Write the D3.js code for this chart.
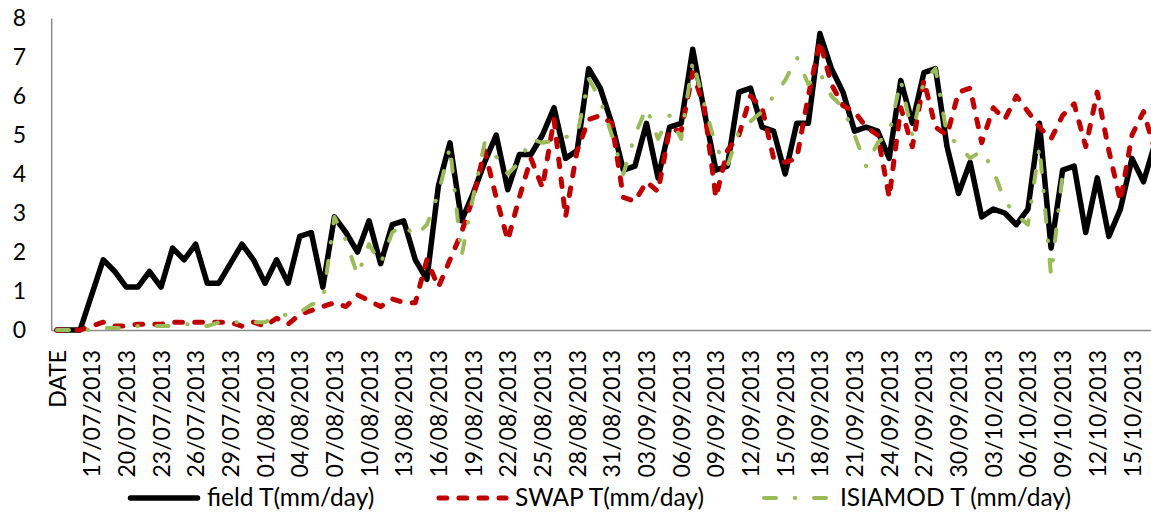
<!DOCTYPE html>
<html lang="en">
<head>
    <meta charset="UTF-8">
    <title>Transpiration</title>
    <script src="https://d3js.org/d3.v7.min.js"></script>
</head>
<style>
    body { margin: 0; background: #fff; }
    text { font-family: Lato, "Open Sans", sans-serif; fill: #000; }
</style>
<body>
<svg id="main" width="1151" height="514"></svg>
<script>
    // categories (first row is the column header that Excel plotted as 0)
    const categories = ["DATE",
        "15/07/2013","16/07/2013","17/07/2013","18/07/2013","19/07/2013","20/07/2013","21/07/2013","22/07/2013",
        "23/07/2013","24/07/2013","25/07/2013","26/07/2013","27/07/2013","28/07/2013","29/07/2013","30/07/2013","31/07/2013",
        "01/08/2013","02/08/2013","03/08/2013","04/08/2013","05/08/2013","06/08/2013","07/08/2013","08/08/2013",
        "09/08/2013","10/08/2013","11/08/2013","12/08/2013","13/08/2013","14/08/2013","15/08/2013","16/08/2013",
        "17/08/2013","18/08/2013","19/08/2013","20/08/2013","21/08/2013","22/08/2013","23/08/2013","24/08/2013",
        "25/08/2013","26/08/2013","27/08/2013","28/08/2013","29/08/2013","30/08/2013","31/08/2013",
        "01/09/2013","02/09/2013","03/09/2013","04/09/2013","05/09/2013","06/09/2013","07/09/2013","08/09/2013",
        "09/09/2013","10/09/2013","11/09/2013","12/09/2013","13/09/2013","14/09/2013","15/09/2013","16/09/2013",
        "17/09/2013","18/09/2013","19/09/2013","20/09/2013","21/09/2013","22/09/2013","23/09/2013","24/09/2013",
        "25/09/2013","26/09/2013","27/09/2013","28/09/2013","29/09/2013","30/09/2013",
        "01/10/2013","02/10/2013","03/10/2013","04/10/2013","05/10/2013","06/10/2013","07/10/2013","08/10/2013",
        "09/10/2013","10/10/2013","11/10/2013","12/10/2013","13/10/2013","14/10/2013","15/10/2013","16/10/2013",
        "17/10/2013"];

    const fieldT = [0, 0, 0, 0.9, 1.8, 1.5, 1.1, 1.1, 1.5, 1.1,
        2.1, 1.8, 2.2, 1.2, 1.2, 1.7, 2.2, 1.8, 1.2, 1.8,
        1.2, 2.4, 2.5, 1.1, 2.9, 2.5, 2.0, 2.8, 1.7, 2.7,
        2.8, 1.8, 1.3, 3.7, 4.8, 2.8, 3.5, 4.3, 5.0, 3.6,
        4.5, 4.5, 5.0, 5.7, 4.4, 4.6, 6.7, 6.2, 5.3, 4.1,
        4.2, 5.3, 3.9, 5.2, 5.3, 7.2, 5.6, 4.1, 4.2, 6.1,
        6.2, 5.2, 5.1, 4.0, 5.3, 5.3, 7.6, 6.7, 6.1, 5.1,
        5.2, 5.1, 4.4, 6.4, 5.3, 6.6, 6.7, 4.7, 3.5, 4.3,
        2.9, 3.1, 3.0, 2.7, 3.1, 5.3, 2.1, 4.1, 4.2, 2.5,
        3.9, 2.4, 3.1, 4.4, 3.8, 4.8];

    const swapT = [0, 0, 0, 0.1, 0.2, 0.1, 0.1, 0.15, 0.15, 0.15,
        0.2, 0.2, 0.2, 0.2, 0.2, 0.2, 0.1, 0.2, 0.1, 0.3,
        0.15, 0.4, 0.5, 0.6, 0.7, 0.6, 0.9, 0.75, 0.6, 0.8,
        0.7, 0.7, 1.8, 1.1, 1.8, 2.5, 3.4, 4.6, 3.4, 2.3,
        3.4, 4.4, 3.65, 5.4, 2.9, 4.6, 5.4, 5.5, 5.3, 3.4,
        3.3, 3.8, 3.55, 5.15, 5.1, 6.6, 5.7, 3.4, 4.6, 5.0,
        6.0, 5.7, 4.4, 4.3, 4.4, 6.0, 7.4, 6.3, 5.75, 5.6,
        5.2, 5.0, 3.4, 5.7, 4.7, 6.4, 5.2, 5.0, 6.1, 6.2,
        4.8, 5.7, 5.4, 6.0, 5.6, 5.2, 4.9, 5.5, 5.8, 4.7,
        6.1, 4.6, 3.3, 5.0, 5.6, 4.6];

    const isiamodT = [0, 0, 0, 0, 0.05, 0.05, 0.05, 0.1, 0.1, 0.1,
        0.1, 0.15, 0.15, 0.1, 0.2, 0.2, 0.2, 0.2, 0.2, 0.35,
        0.4, 0.45, 0.65, 0.75, 2.9, 2.3, 1.4, 2.2, 1.7, 2.5,
        2.7, 2.4, 2.7, 3.5, 4.7, 1.9, 3.4, 4.8, 4.45, 4.0,
        4.3, 4.9, 4.8, 4.85, 4.95, 5.0, 6.45, 5.9, 5.0, 4.0,
        5.0, 5.7, 4.9, 5.5, 4.9, 6.9, 5.8, 4.7, 4.2, 5.1,
        5.35, 5.6, 6.0, 6.4, 7.0, 6.3, 6.6, 6.0, 5.7, 5.0,
        4.2, 4.8, 5.05, 6.4, 5.0, 6.4, 6.7, 5.0, 4.75, 4.4,
        4.6, 4.1, 3.3, 2.95, 2.7, 4.7, 1.4, 4.0];

    const yTicks = [0, 1, 2, 3, 4, 5, 6, 7, 8];

    const series = [
        {name: "field T(mm/day)", values: fieldT, color: "#000000", width: 5.5, dash: null, cap: "round"},
        {name: "SWAP T(mm/day)", values: swapT, color: "#C00000", width: 5, dash: "7.7,12.3", cap: "round"},
        {name: "ISIAMOD T (mm/day)", values: isiamodT, color: "#9BBB59", width: 4, dash: "12,18.75,0.5,18.75", cap: "round"}
    ];

    let svg = d3.select('svg#main');
    let step = 11.559;
    let plotLeft = 51.2, plotTop = 18, plotBottom = 330;

    let x = d3.scalePoint()
        .domain(categories)
        .range([plotLeft, plotLeft + step * categories.length])
        .padding(0.5);

    let y = d3.scaleLinear()
        .domain([0, 8])
        .range([plotBottom, plotTop]);

    // y axis
    let yAxis = svg.append("g")
        .attr("transform", "translate(" + plotLeft + ",0)")
        .call(d3.axisLeft(y).tickValues(yTicks).tickSize(0).tickSizeOuter(0).tickPadding(25));
    yAxis.select(".domain").attr("stroke", "#8c8c8c").attr("stroke-width", 1.5);
    yAxis.selectAll("text").style("font-size", "23px").style("font-family", "Lato");

    // x axis, every third category labelled
    let xAxis = svg.append("g")
        .attr("transform", "translate(0," + plotBottom + ")")
        .call(d3.axisBottom(x)
            .tickValues(categories.filter((d, i) => i % 3 === 0))
            .tickSize(0).tickSizeOuter(0));
    xAxis.select(".domain").attr("stroke", "#8c8c8c").attr("stroke-width", 1.5);
    xAxis.selectAll("text")
        .attr("transform", "rotate(-90)")
        .attr("x", -20)
        .attr("y", 0)
        .attr("dy", "0.35em")
        .style("text-anchor", "end")
        .style("font-size", "23px")
        .style("font-family", "Lato");

    let line = d3.line()
        .x((d, i) => x(categories[i]))
        .y(d => y(d));

    svg.selectAll(".series")
        .data(series)
        .enter()
        .append("path")
        .attr("class", "series")
        .attr("fill", "none")
        .attr("stroke", d => d.color)
        .attr("stroke-width", d => d.width)
        .attr("stroke-dasharray", d => d.dash)
        .attr("stroke-linecap", d => d.cap)
        .attr("stroke-linejoin", "round")
        .attr("d", d => line(d.values));

    // legend
    const legendX = [[130.5, 197.5, 207], [439, 506, 515], [764, 826, 840]];
    let legend = svg.selectAll(".legend")
        .data(series)
        .enter().append("g")
        .attr("class", "legend");

    legend.append("line")
        .attr("x1", (d, i) => legendX[i][0])
        .attr("x2", (d, i) => legendX[i][1])
        .attr("y1", 498).attr("y2", 498)
        .attr("stroke", d => d.color)
        .attr("stroke-width", d => d.width)
        .attr("stroke-dasharray", d => d.dash)
        .attr("stroke-linecap", d => d.cap);

    legend.append("text")
        .attr("x", (d, i) => legendX[i][2])
        .attr("y", 497)
        .attr("dy", "0.35em")
        .style("font-size", "24.5px")
        .text(d => d.name);
</script>
</body>
</html>
